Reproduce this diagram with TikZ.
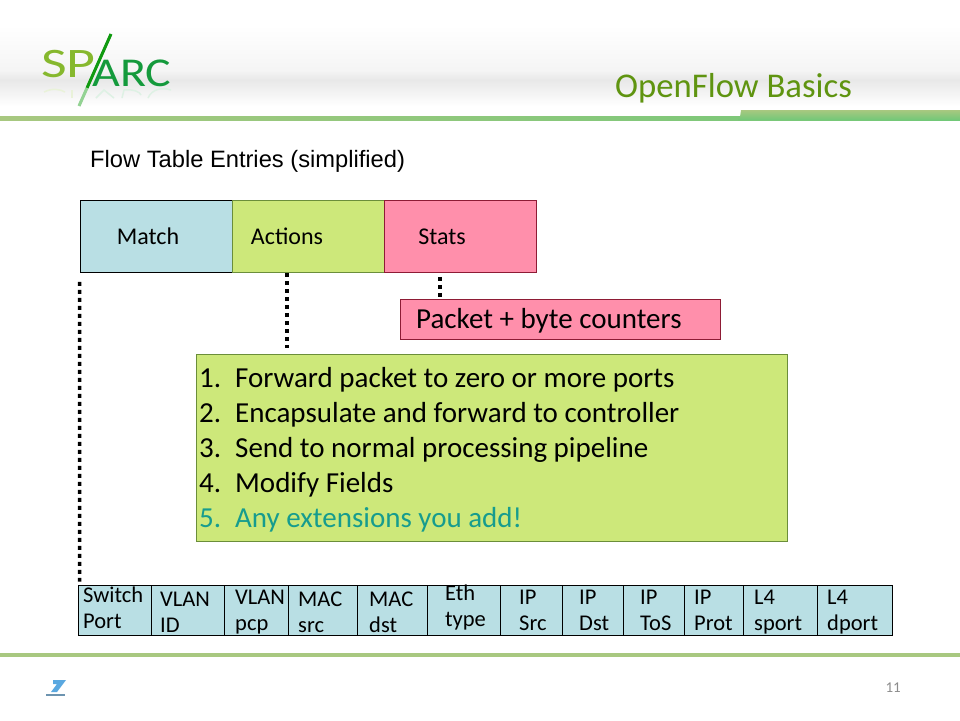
\documentclass[tikz,border=0pt]{standalone}
\usepackage{fontspec}
\setmainfont{Carlito}
\newfontfamily\arialfont{Liberation Sans}
\usepackage{tikz}
\usetikzlibrary{positioning}
\definecolor{matchblue}{HTML}{B9DFE4}
\definecolor{actiongreen}{HTML}{CDE87A}
\definecolor{actionedge}{HTML}{6B8E3A}
\definecolor{statspink}{HTML}{FF8FAB}
\definecolor{statsedge}{HTML}{8E1B35}
\definecolor{titlegreen}{HTML}{5F9410}
\definecolor{rulegreen}{HTML}{A8C880}
\definecolor{rightgreen}{HTML}{72C878}
\definecolor{extteal}{HTML}{169C8E}
\definecolor{logolight}{HTML}{86B82E}
\definecolor{logodark}{HTML}{149A3C}
\definecolor{logoslash}{HTML}{109A10}
\definecolor{footblue}{HTML}{5AA8E0}
\newcommand{\listnum}[1]{\makebox[36pt][l]{#1}}
\tikzset{
  fieldcell/.style={draw=black, line width=0.9pt, fill=matchblue, inner sep=0pt, minimum height=50pt},
  fieldtext/.style={font=\fontsize{22.5}{26}\selectfont, align=left, anchor=west, inner sep=0pt},
  entrytext/.style={font=\fontsize{24}{24}\selectfont, inner sep=0pt, anchor=base},
  dotline/.style={line width=3.5pt, dash pattern=on 4pt off 4pt, black}
}
\begin{document}
\begin{tikzpicture}[x=1pt, y=-1pt]
  \useasboundingbox (0,0) rectangle (960,720);
  % header band
  \fill[top color=white, bottom color=black!4] (0,25) rectangle (960,70);
  \fill[top color=black!4, bottom color=black!9] (0,70) rectangle (960,80);
  \fill[top color=black!9, bottom color=white] (0,80) rectangle (960,106);
  \shade[left color=rulegreen, right color=rightgreen] (0,116) rectangle (960,120);
  \shade[top color=rulegreen, bottom color=rightgreen] (741,110) -- (960,110) -- (960,120) -- (738,120) -- (740,117) -- cycle;
  \fill[rulegreen] (0,653) rectangle (960,657);
  % logo
  \node[font=\fontsize{42}{42}\selectfont, text=logolight, anchor=base west, inner sep=0pt, xscale=1.33] (logosp) at (41,77) {SP};
  \node[font=\fontsize{41}{41}\selectfont, text=logodark, anchor=base west, inner sep=0pt, xscale=1.17] (logoarc) at (92,86) {ARC};
  \draw[logoslash, line width=3pt] (111,34) -- (87,88);
  \draw[logoslash!45, line width=3pt] (87,88) -- (79,106);
  \draw[logolight!18, line width=1.5pt] (44,92) .. controls (52,88) and (60,89) .. (65,92);
  \draw[logolight!18, line width=1.5pt] (72,90) -- (72,98);
  \draw[logodark!14, line width=1.5pt] (96,98) -- (104,90) -- (114,98);
  \draw[logodark!14, line width=1.5pt] (122,98) -- (124,90) .. controls (134,89) and (140,92) .. (141,95);
  \draw[logodark!14, line width=1.5pt] (148,98) .. controls (152,89) and (162,87) .. (171,90);
  % title and heading
  \node[font=\fontsize{34.7}{34.7}\selectfont, text=titlegreen, anchor=base west, inner sep=0pt] (title) at (615,97) {OpenFlow Basics};
  \node[font=\arialfont\fontsize{23.7}{23.7}\selectfont, anchor=base west, inner sep=0pt] (heading) at (90,167) {Flow Table Entries (simplified)};
  % table entry
  \node[draw=black, line width=0.8pt, fill=matchblue, minimum width=152pt, minimum height=72pt, inner sep=0pt] (match) at (156,236.5) {};
  \node[draw=actionedge, line width=0.8pt, fill=actiongreen, minimum width=152pt, minimum height=72pt, inner sep=0pt] (actions) at (308,236.5) {};
  \node[draw=statsedge, line width=0.8pt, fill=statspink, minimum width=152pt, minimum height=72pt, inner sep=0pt] (stats) at (460,236.5) {};
  \node[entrytext] (matchtext) at (148,244) {Match};
  \node[entrytext] (actionstext) at (287,244) {Actions};
  \node[entrytext] (statstext) at (442,244) {Stats};
  % counters and action list
  \node[draw=statsedge, line width=0.8pt, fill=statspink, minimum width=320pt, minimum height=40pt, inner sep=0pt] (counters) at (560.5,319.5) {};
  \node[font=\fontsize{29}{29}\selectfont, inner sep=0pt, anchor=west] (counterstext) at (416,321) {Packet + byte counters};
  \node[draw=actionedge, line width=0.8pt, fill=actiongreen, minimum width=591pt, minimum height=187pt, inner sep=0pt] (actionlist) at (491.5,447.5) {};
  \node[font=\fontsize{29}{35}\selectfont, align=left, anchor=north west, inner sep=0pt] (listtext) at (199,367) {%
    \listnum{1.}Forward packet to zero or more ports\\
    \listnum{2.}Encapsulate and forward to controller\\
    \listnum{3.}Send to normal processing pipeline\\
    \listnum{4.}Modify Fields\\
    \textcolor{extteal}{\listnum{5.}Any extensions you add!}};
  % field cells
  \node[fieldcell, minimum width=73pt] (port) at (114.5,610) {};
  \node[fieldcell, minimum width=73pt] (vlanid) at (187.5,610) {};
  \node[fieldcell, minimum width=64pt] (vlanpcp) at (256,610) {};
  \node[fieldcell, minimum width=69pt] (macsrc) at (322.5,610) {};
  \node[fieldcell, minimum width=70pt] (macdst) at (392,610) {};
  \node[fieldcell, minimum width=73pt] (ethtype) at (463.5,610) {};
  \node[fieldcell, minimum width=62pt] (ipsrc) at (531,610) {};
  \node[fieldcell, minimum width=61pt] (ipdst) at (592.5,610) {};
  \node[fieldcell, minimum width=61pt] (iptos) at (653.5,610) {};
  \node[fieldcell, minimum width=59pt] (ipprot) at (713.5,610) {};
  \node[fieldcell, minimum width=74pt] (sport) at (780,610) {};
  \node[fieldcell, minimum width=75pt] (dport) at (854.5,610) {};
  \node[fieldtext] (porttext) at (83,608) {Switch\\Port};
  \node[fieldtext] (vlanidtext) at (160,612) {VLAN\\ID};
  \node[fieldtext] (vlanpcptext) at (235,612) {VLAN\\pcp};
  \node[fieldtext] (macsrctext) at (298,612) {MAC\\src};
  \node[fieldtext] (macdsttext) at (369,612) {MAC\\dst};
  \node[fieldtext] (ethtypetext) at (445,607) {Eth\\type};
  \node[fieldtext] (ipsrctext) at (519,610) {IP\\Src};
  \node[fieldtext] (ipdsttext) at (579,610) {IP\\Dst};
  \node[fieldtext] (iptostext) at (640,610) {IP\\ToS};
  \node[fieldtext] (ipprottext) at (694,610) {IP\\Prot};
  \node[fieldtext] (sporttext) at (754,612) {L4\\sport};
  \node[fieldtext] (dporttext) at (827,612) {L4\\dport};
  % dotted links
  \draw[dotline] ([yshift=-9pt]match.south west) -- ([xshift=2pt, yshift=3pt]port.north west);
  \draw[dotline] ([xshift=-21pt]actions.south) -- ([xshift=-204.5pt, yshift=6pt]actionlist.north);
  \draw[dotline] ([xshift=-20pt, yshift=-4pt]stats.south) -- ([xshift=-120.5pt, yshift=2pt]counters.north);
  % page number and footer mark
  \node[font=\fontsize{15}{15}\selectfont, text=black!45, anchor=base east, inner sep=0pt] (pagenum) at (901,692) {11};
  \fill[footblue] (53,680) -- (66,680) -- (57,692) -- (51,692) -- (57,684) -- (53,684) -- cycle;
  \draw[footblue!50!gray, line width=1.2pt] (46,695) -- (65,695);
\end{tikzpicture}
\end{document}
